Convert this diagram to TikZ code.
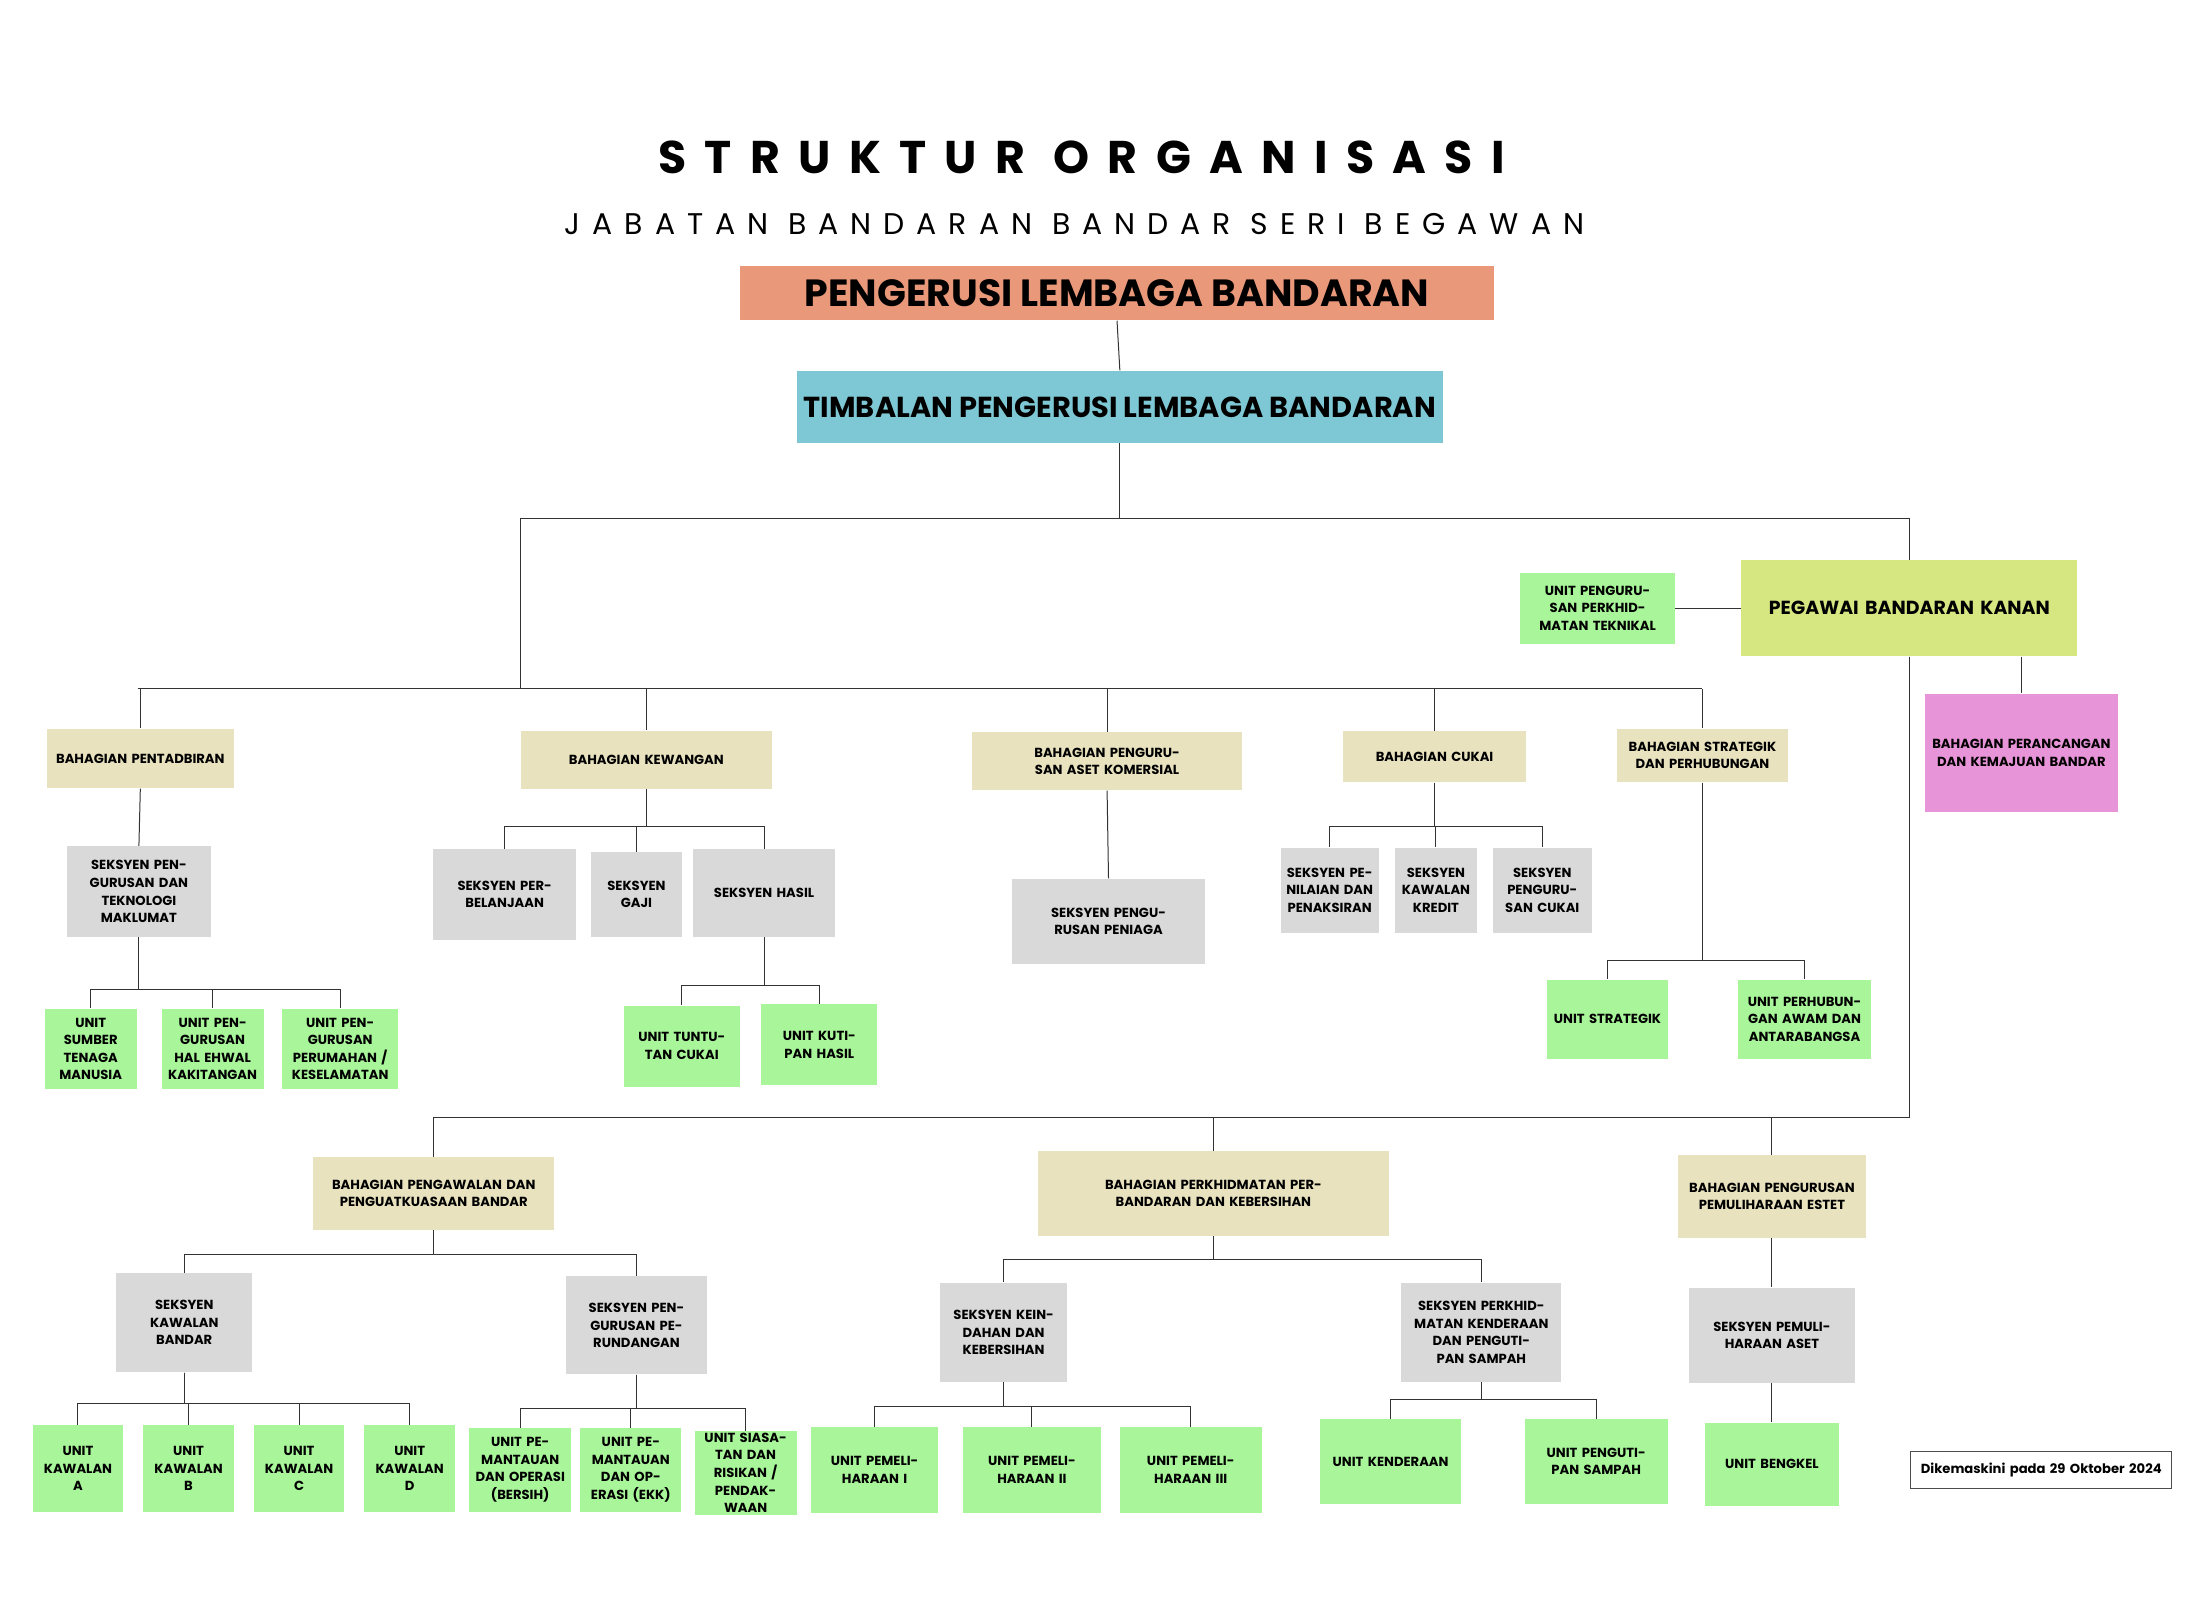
\documentclass[tikz,border=0pt]{standalone}
\usepackage{fontspec}
\setmainfont{Poppins}
\usetikzlibrary{positioning}
\definecolor{tan}{HTML}{E8E2BE}
\definecolor{grey}{HTML}{D9D9D9}
\definecolor{grn}{HTML}{A8F59A}
\definecolor{salmon}{HTML}{EA987A}
\definecolor{teal}{HTML}{7DC8D4}
\definecolor{lime}{HTML}{D6E680}
\definecolor{pink}{HTML}{E794D8}
\tikzset{
	box/.style={fill=#1, align=center, inner sep=1pt,
		font=\bfseries\fontsize{6.6}{8.8}\selectfont},
	big/.style={fill=#1, align=center, font=\bfseries\fontsize{19}{22}\selectfont},
	link/.style={draw=black!80, line width=0.5pt},
}
% name, x, y, width, height, style, text
\newcommand{\bx}[7]{\node[#6, minimum width=#4*0.25mm, minimum height=#5*0.25mm,
	text width={#4*0.25mm-5pt}] (#1) at (#2,#3) {#7};}

\begin{document}
\begin{tikzpicture}[x=0.25mm,y=-0.25mm]
	\path[use as bounding box, fill=white] (0,0) rectangle (1552,1129);
	\node[font=\bfseries\fontsize{23}{26}\selectfont\addfontfeatures{LetterSpace=40}] (title) at (763,111) {STRUKTUR ORGANISASI};
	\node[font=\fontsize{15}{18}\selectfont\addfontfeatures{LetterSpace=40}] (subtitle) at (758,158) {JABATAN BANDARAN BANDAR SERI BEGAWAN};
	% top
	\node[big=salmon, minimum width=532*0.25mm, minimum height=38*0.25mm] (pl) at (788,207) {PENGERUSI LEMBAGA BANDARAN};
	\node[big=teal, minimum width=443*0.25mm, minimum height=51*0.25mm, font=\bfseries\fontsize{14.5}{17}\selectfont] (tp) at (790,287) {TIMBALAN PENGERUSI LEMBAGA BANDARAN};
	\bx{pbk}{1347}{429}{237}{68}{box=lime, font=\bfseries\fontsize{9.5}{11}\selectfont}{PEGAWAI BANDARAN KANAN}
	\bx{upt}{1127}{429}{109}{50}{box=grn}{UNIT PENGURUSAN PERKHIDMATAN TEKNIKAL}
	\bx{prc}{1426}{531}{136}{83}{box=pink}{BAHAGIAN PERANCANGAN DAN KEMAJUAN BANDAR}
	% bahagian
	\bx{pent}{99}{535}{132}{42}{box=tan}{BAHAGIAN PENTADBIRAN}
	\bx{kew}{456}{536}{177}{41}{box=tan}{BAHAGIAN KEWANGAN}
	\bx{aset}{781}{537}{190}{41}{box=tan}{BAHAGIAN PENGURUSAN ASET KOMERSIAL}
	\bx{cukai}{1012}{534}{129}{36}{box=tan}{BAHAGIAN CUKAI}
	\bx{strat}{1201}{533}{121}{38}{box=tan}{BAHAGIAN STRATEGIK DAN PERHUBUNGAN}
	% pentadbiran
	\bx{tek}{98}{629}{102}{64}{box=grey}{SEKSYEN PENGURUSAN DAN TEKNOLOGI MAKLUMAT}
	\bx{usm}{64}{740}{65}{57}{box=grn}{UNIT SUMBER TENAGA MANUSIA}
	\bx{uhe}{150}{740}{72}{57}{box=grn}{UNIT PENGURUSAN HAL EHWAL KAKITANGAN}
	\bx{upk}{240}{740}{82}{57}{box=grn}{UNIT PENGURUSAN PERUMAHAN / KESELAMATAN}
	% kewangan
	\bx{blj}{356}{631}{101}{64}{box=grey}{SEKSYEN PERBELANJAAN}
	\bx{gaji}{449}{631}{64}{60}{box=grey}{SEKSYEN GAJI}
	\bx{hasil}{539}{630}{100}{62}{box=grey}{SEKSYEN HASIL}
	\bx{ttc}{481}{738}{82}{57}{box=grn}{UNIT TUNTUTAN CUKAI}
	\bx{kth}{578}{737}{82}{57}{box=grn}{UNIT KUTIPAN HASIL}
	% aset
	\bx{pnj}{782}{650}{136}{60}{box=grey}{SEKSYEN PENGURUSAN PENIAGA}
	% cukai
	\bx{pnl}{938}{628}{69}{60}{box=grey}{SEKSYEN PENILAIAN DAN PENAKSIRAN}
	\bx{kkr}{1013}{628}{58}{60}{box=grey}{SEKSYEN KAWALAN KREDIT}
	\bx{pgc}{1088}{628}{70}{60}{box=grey}{SEKSYEN PENGURUSAN CUKAI}
	% strategik
	\bx{ust}{1134}{719}{86}{56}{box=grn}{UNIT STRATEGIK}
	\bx{uph}{1273}{719}{94}{56}{box=grn}{UNIT PERHUBUNGAN AWAM DAN ANTARABANGSA}
	% lower bahagian
	\bx{pgw}{306}{842}{170}{51}{box=tan}{BAHAGIAN PENGAWALAN DAN PENGUATKUASAAN BANDAR}
	\bx{pbd}{856}{842}{248}{60}{box=tan}{BAHAGIAN PERKHIDMATAN PERBANDARAN DAN KEBERSIHAN}
	\bx{est}{1250}{844}{133}{58}{box=tan}{BAHAGIAN PENGURUSAN PEMULIHARAAN ESTET}
	% pengawalan
	\bx{kwb}{130}{933}{96}{70}{box=grey}{SEKSYEN KAWALAN BANDAR}
	\bx{prd}{449}{935}{99}{69}{box=grey}{SEKSYEN PENGURUSAN PERUNDANGAN}
	\bx{ka}{55}{1036}{64}{61}{box=grn}{UNIT KAWALAN A}
	\bx{kb}{133}{1036}{64}{61}{box=grn}{UNIT KAWALAN B}
	\bx{kc}{211}{1036}{64}{61}{box=grn}{UNIT KAWALAN C}
	\bx{kd}{289}{1036}{64}{61}{box=grn}{UNIT KAWALAN D}
	\bx{pob}{367}{1037}{72}{59}{box=grn}{UNIT PEMANTAUAN DAN OPERASI (BERSIH)}
	\bx{poe}{445}{1037}{71}{59}{box=grn}{UNIT PEMANTAUAN DAN OPERASI (EKK)}
	\bx{srp}{526}{1039}{72}{57}{box=grn}{UNIT SIASATAN DAN RISIKAN / PENDAKWAAN}
	% perbandaran
	\bx{kdh}{708}{940}{90}{70}{box=grey}{SEKSYEN KEINDAHAN DAN KEBERSIHAN}
	\bx{kdr}{1045}{940}{113}{70}{box=grey}{SEKSYEN PERKHIDMATAN KENDERAAN DAN PENGUTIPAN SAMPAH}
	\bx{pm1}{617}{1037}{90}{60}{box=grn}{UNIT PEMELIHARAAN I}
	\bx{pm2}{728}{1037}{98}{60}{box=grn}{UNIT PEMELIHARAAN II}
	\bx{pm3}{840}{1037}{100}{60}{box=grn}{UNIT PEMELIHARAAN III}
	\bx{ukd}{981}{1031}{100}{60}{box=grn}{UNIT KENDERAAN}
	\bx{ups}{1126}{1031}{101}{60}{box=grn}{UNIT PENGUTIPAN SAMPAH}
	% estet
	\bx{pma}{1250}{942}{117}{67}{box=grey}{SEKSYEN PEMULIHARAAN ASET}
	\bx{bgk}{1250}{1033}{95}{59}{box=grn}{UNIT BENGKEL}
	\bx{date}{1440}{1037}{184}{26}{box=white, draw=black!70}{Dikemaskini pada 29 Oktober 2024}
	% connectors
	\draw[link] (pl.south) -- (tp.north);
	\draw[link] (tp.south) -- ++(0,53) -| (pbk.north);
	\draw[link] (tp.south) -- ++(0,53) -| (367,486);
	\draw[link] (upt.east) -- (pbk.west);
	\draw[link] (pbk.south -| prc.north) -- (prc.north);
	\coordinate (busA) at (0,486);
	\draw[link] (97,486) -- (1201,486);
	\foreach \c in {pent,kew,aset,cukai,strat}
		\draw[link] (\c.north |- busA) -- (\c.north);
	\draw[link] (pent.south) -- (tek.north);
	\foreach \c in {usm,uhe,upk} \draw[link] (tek.south) -- ++(0,37) -| (\c.north);
	\foreach \c in {blj,gaji,hasil} \draw[link] (kew.south) -- ++(0,26) -| (\c.north);
	\foreach \c in {ttc,kth} \draw[link] (hasil.south) -- ++(0,34) -| (\c.north);
	\draw[link] (aset.south) -- (pnj.north);
	\foreach \c in {pnl,kkr,pgc} \draw[link] (cukai.south) -- ++(0,31) -| (\c.north);
	\foreach \c in {ust,uph} \draw[link] (strat.south) -- ++(0,125) -| (\c.north);
	\foreach \c in {pgw,pbd,est} \draw[link] (pbk.south) -- ++(0,325) -| (\c.north);
	\foreach \c in {kwb,prd} \draw[link] (pgw.south) -- ++(0,17) -| (\c.north);
	\foreach \c in {ka,kb,kc,kd} \draw[link] (kwb.south) -- ++(0,22) -| (\c.north);
	\foreach \c in {pob,poe,srp} \draw[link] (prd.south) -- ++(0,24) -| (\c.north);
	\foreach \c in {kdh,kdr} \draw[link] (pbd.south) -- ++(0,16) -| (\c.north);
	\foreach \c in {pm1,pm2,pm3} \draw[link] (kdh.south) -- ++(0,17) -| (\c.north);
	\foreach \c in {ukd,ups} \draw[link] (kdr.south) -- ++(0,12) -| (\c.north);
	\draw[link] (est.south) -- (pma.north);
	\draw[link] (pma.south) -- (bgk.north);
\end{tikzpicture}
\end{document}
